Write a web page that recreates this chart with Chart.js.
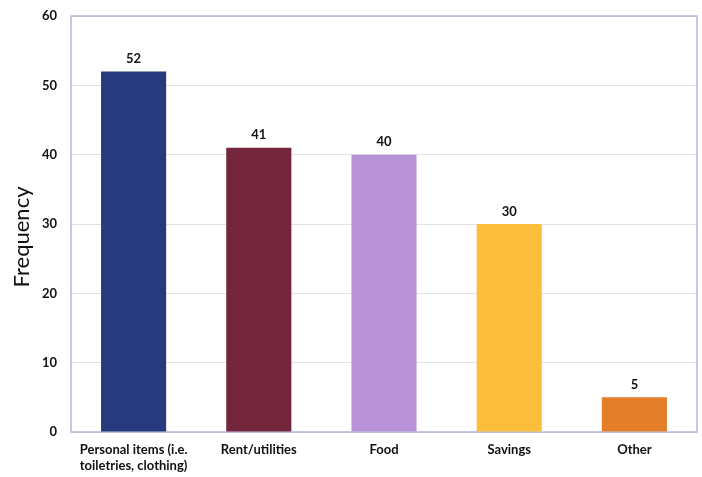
<!DOCTYPE html>
<html><head><meta charset="utf-8">
<script src="https://cdn.jsdelivr.net/npm/chart.js@4"></script>
<style>html,body{margin:0;padding:0;background:#fff}#wrap{width:702px;height:477px}</style>
</head><body><div id="wrap"><canvas id="c" width="702" height="477"></canvas></div>
<script>
const categories = [["Personal items (i.e.", "toiletries, clothing)"], "Rent/utilities", "Food", "Savings", "Other"];
const values = [52, 41, 40, 30, 5];
const barColors = ["#263A7D", "#74263D", "#B893D8", "#FBBF3C", "#E27F28"];
const yTicks = [0, 10, 20, 30, 40, 50, 60];
const yTitle = "Frequency";

const frame = {
  id: 'frame',
  beforeDatasetsDraw(chart) {
    const a = chart.chartArea, ctx = chart.ctx;
    ctx.save(); ctx.strokeStyle = '#A6ACD4'; ctx.lineWidth = 1.3;
    ctx.strokeRect(a.left, a.top, a.right - a.left, a.bottom - a.top);
    ctx.restore();
  }
};
const valueLabels = {
  id: 'valueLabels',
  afterDatasetsDraw(chart) {
    const ctx = chart.ctx, meta = chart.getDatasetMeta(0);
    ctx.save(); ctx.font = 'bold 13px Lato'; ctx.fillStyle = '#111';
    ctx.textAlign = 'center'; ctx.textBaseline = 'bottom';
    meta.data.forEach((el, i) => ctx.fillText(String(values[i]), el.x, el.y - 6));
    ctx.restore();
  }
};
const axisTitle = {
  id: 'axisTitle',
  afterDraw(chart) {
    const ctx = chart.ctx, a = chart.chartArea;
    ctx.save(); ctx.font = '22px Lato'; ctx.fillStyle = '#111';
    ctx.textAlign = 'center'; ctx.textBaseline = 'middle';
    ctx.translate(22, (a.top + a.bottom) / 2 + 13); ctx.rotate(-Math.PI / 2);
    ctx.fillText(yTitle, 0, 0);
    ctx.restore();
  }
};

new Chart(document.getElementById('c'), {
  type: 'bar',
  data: { labels: categories, datasets: [{ data: values, backgroundColor: barColors, categoryPercentage: 1, barPercentage: 0.52 }] },
  options: {
    responsive: false, animation: false,
    layout: { padding: { top: 16, right: 5, left: 0, bottom: 0 } },
    plugins: { legend: { display: false }, tooltip: { enabled: false } },
    scales: {
      x: {
        grid: { display: false, drawTicks: false },
        border: { display: false },
        ticks: { color: '#111', font: { family: 'Lato', weight: 'bold', size: 13 }, padding: 10, maxRotation: 0, autoSkip: false },
        afterFit: s => { s.height = 45; s.paddingLeft = 0; s.paddingRight = 0; }
      },
      y: {
        min: 0, max: 60,
        afterBuildTicks: s => { s.ticks = yTicks.map(v => ({ value: v })); },
        grid: { color: '#E2E2E2', drawTicks: false },
        border: { display: false },
        ticks: { color: '#111', font: { family: 'Lato', weight: 'bold', size: 13 }, padding: 14 },
        title: { display: false },
        afterFit: s => { s.width = 71; s.paddingTop = 0; s.paddingBottom = 0; }
      }
    }
  },
  plugins: [frame, valueLabels, axisTitle]
});
</script></body></html>
